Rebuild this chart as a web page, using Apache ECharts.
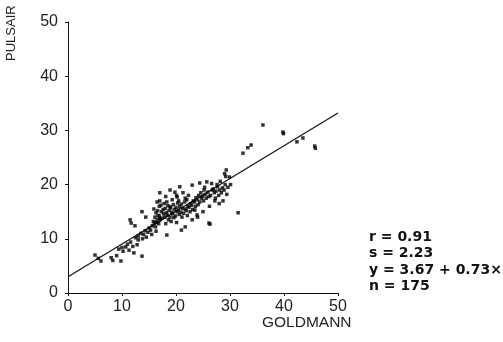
<!DOCTYPE html>
<html>
<head>
<meta charset="utf-8">
<script src="https://cdn.jsdelivr.net/npm/echarts@6/dist/echarts.min.js"></script>
<style>html,body{margin:0;padding:0;background:#fff}#c{width:503px;height:342px}</style>
</head>
<body>
<div id="c"></div>
<script>
var xTicks = [0, 10, 20, 30, 40, 50];
var yTicks = [0, 10, 20, 30, 40, 50];
var goldmann = [
 5.0,5.6,6.1,8.0,8.3,9.0,9.4,9.8,10.2,10.7,11.0,11.3,11.6,12.0,12.5,12.2,13.7,13.0,12.8,10.0,
 11.5,11.7,13.7,14.4,12.4,
 13.0,13.5,14.0,14.3,14.8,15.0,15.3,15.6,16.0,16.2,16.5,16.8,17.0,13.8,14.5,15.5,16.3,18.3,21.0,21.7,26.3,31.5,
 17.0,18.9,16.5,18.9,19.8,20.7,20.2,21.7,23.5,23.9,24.4,25.7,23.0,26.1,
 15.8,16.1,16.3,15.9, 16.4,16.7,16.6,16.9, 17.1,16.9,17.3,17.2,17.0, 17.4,17.7,17.6,17.8,
 18.1,17.9,18.2,18.0,18.3,18.1, 18.6,18.4,18.7,18.5, 19.1,18.9,19.2,19.0,19.3, 19.6,19.4,19.7,19.5,
 20.1,19.9,20.2,20.0,20.3,20.1, 20.6,20.4,20.7,20.5, 21.1,20.9,21.2,21.0, 21.4,21.7,21.6,21.3,
 22.1,21.9,22.2,22.0, 22.6,22.4,22.7,22.3, 23.1,22.9,23.2,23.0, 23.6,23.4,23.7, 24.1,23.9,24.2,24.0,
 24.4,24.7,24.6, 25.1,24.9,25.2,25.0, 25.6,25.4,25.3, 26.1,25.9,26.2, 26.4,26.7,26.6,
 27.1,26.9,27.2, 27.4,27.7,27.6,27.3, 28.1,27.9,28.2,28.0, 28.6,28.4,28.7, 29.1,28.9,29.2,29.0, 29.6,29.4,29.3, 30.1,29.9,
 36.1,39.8,39.9,42.4,43.5,45.7,45.8,32.4,33.3,33.9
];
var pulsair = [
 7.0,6.4,5.9,6.5,6.0,6.9,8.1,5.9,7.7,8.5,9.0,7.9,9.4,8.6,10.2,7.4,6.8,9.8,8.9,8.4,
 13.5,12.9,15.0,14.0,12.4,
 10.5,11.0,10.8,11.5,11.2,12.0,11.6,12.4,12.9,12.2,13.5,12.8,13.8,10.0,10.3,10.8,11.4,10.7,11.6,12.2,12.7,14.8,
 18.5,19.0,16.8,15.9,18.6,19.6,17.7,17.5,15.3,14.4,20.3,20.5,19.9,12.9,
 13.2,14.0,14.8,15.5, 13.0,14.3,15.2,16.0, 13.5,14.2,15.0,16.2,17.0, 13.8,14.6,15.4,16.5,
 12.8,14.0,14.8,15.6,16.8,17.8, 13.5,14.4,15.2,16.1, 13.2,14.0,14.9,15.7,17.2, 13.9,14.6,15.4,16.3,
 13.0,14.2,15.0,15.8,16.6,18.0, 14.5,15.3,16.0,17.0, 14.0,14.9,15.6,16.4, 14.7,15.5,16.8,18.5,
 14.3,15.2,16.0,17.2, 15.0,15.8,16.5,18.0, 15.4,16.2,17.0,13.5, 16.0,16.8,17.6, 16.3,17.2,18.0,14.0,
 16.8,17.5,18.5, 17.0,17.8,19.0,15.0, 17.5,18.2,19.5, 17.8,18.6,16.0, 18.0,19.0,20.2,
 18.5,19.2,17.0, 18.8,19.6,20.0,17.5, 19.0,18.0,20.6,16.5, 19.4,18.5,17.0, 20.0,19.0,21.5,22.0, 19.5,18.2,22.7, 20.0,21.4,
 31.0,29.7,29.4,27.9,28.6,27.1,26.7,25.8,26.8,27.3
];
var fitX = [0, 50];
var fitY = [3.0, 33.2];
var statsLines = ['r = 0.91', 's = 2.23', 'y = 3.67 + 0.73×', 'n = 175'];

var pts = goldmann.map(function(v, i){ return [v, pulsair[i]]; });
var fit = fitX.map(function(v, i){ return [v, fitY[i]]; });

var chart = echarts.init(document.getElementById('c'), null, {renderer:'canvas'});
var axisCommon = {
  type: 'value', min: 0, max: 50, interval: 10,
  axisLine: {show: true, lineStyle: {color: '#111', width: 1}},
  axisTick: {show: true, length: 3, lineStyle: {color: '#111'}},
  splitLine: {show: false},
  axisLabel: {color: '#222', fontFamily: 'Liberation Sans', fontSize: 16}
};
chart.setOption({
  animation: false,
  backgroundColor: '#fff',
  grid: {left: 68, right: 165, top: 22, bottom: 49},
  xAxis: Object.assign({}, axisCommon, {axisLabel: Object.assign({}, axisCommon.axisLabel, {margin: 6})}),
  yAxis: Object.assign({}, axisCommon, {axisLabel: Object.assign({}, axisCommon.axisLabel, {margin: 10})}),
  graphic: [
    {type: 'text', left: 262, top: 315, style: {text: 'GOLDMANN', font: '15.5px "Liberation Sans"', fill: '#222'}},
    {type: 'text', x: 5, y: 61, rotation: Math.PI/2, style: {text: 'PULSAIR', font: '13px "Liberation Sans"', fill: '#222'}},
    {type: 'text', left: 369, top: 229, style: {text: statsLines.join('\n'), font: 'bold 14px "DejaVu Sans"', lineHeight: 16.5, fill: '#111'}}
  ],
  series: [
    {type: 'line', data: fit, symbol: 'none', lineStyle: {color: '#111', width: 1.2}, z: 3},
    {type: 'scatter', data: pts, symbol: 'rect', symbolSize: 3.5, itemStyle: {color: '#000'}, z: 4}
  ]
});
</script>
</body>
</html>
